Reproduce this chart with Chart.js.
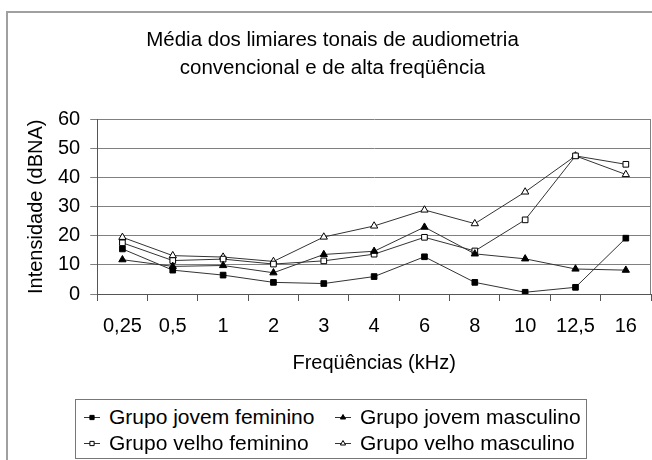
<!DOCTYPE html>
<html>
<head>
<meta charset="utf-8">
<script src="https://cdn.jsdelivr.net/npm/chart.js@4"></script>
<style>
  body { margin: 0; background: #fff; }
  #wrap { position: relative; width: 652px; height: 460px; overflow: hidden; }
  #frame { position: absolute; left: 6px; top: 11px; width: 700px; height: 520px; border: 2px solid #a0a0a0; box-sizing: border-box; }
  #chart { position: absolute; left: 0; top: 0; }
  #legend { position: absolute; left: 75px; top: 399px; width: 512px; height: 60px; border: 1px solid #777; box-sizing: border-box; background: #fff;
    font: 21px "Liberation Sans", Arial, sans-serif; color: #000; padding: 4px 0 0 8px; }
  #legend .row { display: flex; height: 26px; align-items: center; }
  #legend .item { display: flex; align-items: center; width: 254px; white-space: nowrap; }
  #legend canvas { margin-right: 9px; }
</style>
</head>
<body>
<div id="wrap">
  <div id="frame"></div>
  <canvas id="chart" width="652" height="460"></canvas>
  <div id="legend"></div>
</div>
<script>
// Média dos limiares tonais (dBNA) por frequência
const frequencias = ["0,25", "0,5", "1", "2", "3", "4", "6", "8", "10", "12,5", "16"];
const jovemFeminino = [15.5, 8.2, 6.5, 4.0, 3.6, 6.0, 12.8, 4.0, 0.6, 2.3, 19.2];
const jovemMasculino = [11.8, 9.5, 9.8, 7.3, 13.6, 14.7, 23.0, 13.8, 12.1, 8.6, 8.2];
const velhoFeminino = [17.6, 11.5, 12.0, 10.3, 11.4, 13.7, 19.5, 14.8, 25.5, 47.5, 44.6];
const velhoMasculino = [19.5, 13.2, 12.7, 11.2, 19.6, 23.4, 28.9, 24.2, 35.1, 47.5, 41.1];

const FONT = '"Liberation Sans", Arial, sans-serif';

function serie(label, data, style, filled) {
  return {
    label: label,
    data: data,
    borderColor: "#333",
    borderWidth: 1,
    pointStyle: style,
    pointRadius: style === "rect" ? 4 : 4.2,
    pointBorderColor: "#000",
    pointBorderWidth: 1,
    pointBackgroundColor: filled ? "#000" : "#fff",
    tension: 0,
    fill: false
  };
}

// draws the right edge of the plot area
const plotBorder = {
  id: "plotBorder",
  beforeDatasetsDraw(chart) {
    const { ctx, chartArea } = chart;
    ctx.save();
    ctx.strokeStyle = "#808080";
    ctx.lineWidth = 1;
    ctx.beginPath();
    ctx.moveTo(chartArea.right - 0.5, chartArea.top);
    ctx.lineTo(chartArea.right - 0.5, chartArea.bottom);
    ctx.stroke();
    ctx.restore();
  }
};

// legend built as html, two columns like the original
const htmlLegend = {
  id: "htmlLegend",
  afterUpdate(chart) {
    const box = document.getElementById("legend");
    box.innerHTML = "";
    const ds = chart.data.datasets;
    for (let r = 0; r < 2; r++) {
      const row = document.createElement("div");
      row.className = "row";
      for (let c = 0; c < 2; c++) {
        const d = ds[r * 2 + c];
        const item = document.createElement("div");
        item.className = "item";
        const icon = document.createElement("canvas");
        icon.width = 16; icon.height = 12;
        const ictx = icon.getContext("2d");
        ictx.strokeStyle = d.borderColor;
        ictx.lineWidth = 1;
        ictx.beginPath();
        ictx.moveTo(0, 6.5); ictx.lineTo(16, 6.5);
        ictx.stroke();
        ictx.fillStyle = d.pointBackgroundColor;
        ictx.strokeStyle = d.pointBorderColor;
        Chart.helpers.drawPoint(ictx, { pointStyle: d.pointStyle, radius: 3, rotation: 0, borderWidth: 1 }, 8, 6.5);
        item.appendChild(icon);
        item.appendChild(document.createTextNode(d.label));
        row.appendChild(item);
      }
      box.appendChild(row);
    }
  }
};

new Chart(document.getElementById("chart"), {
  type: "line",
  data: {
    labels: frequencias,
    datasets: [
      serie("Grupo jovem feminino", jovemFeminino, "rect", true),
      serie("Grupo jovem masculino", jovemMasculino, "triangle", true),
      serie("Grupo velho feminino", velhoFeminino, "rect", false),
      serie("Grupo velho masculino", velhoMasculino, "triangle", false)
    ]
  },
  options: {
    responsive: false,
    animation: false,
    layout: { autoPadding: false, padding: { left: 14, right: 1, top: 0, bottom: 81 } },
    plugins: {
      legend: { display: false },
      tooltip: { enabled: false },
      title: {
        display: true,
        text: ["Média dos limiares tonais de audiometria", "convencional e de alta freqüência"],
        color: "#000",
        font: { family: FONT, size: 20.5, weight: "normal", lineHeight: 1.33 },
        padding: { top: 27, bottom: 38 }
      }
    },
    scales: {
      x: {
        offset: true,
        grid: { offset: true, drawOnChartArea: false, drawTicks: true, tickLength: 7, color: "#555" },
        border: { color: "#555" },
        ticks: { color: "#000", padding: 13, font: { family: FONT, size: 20 }, maxRotation: 0 },
        title: { display: true, text: "Freqüências (kHz)", color: "#000", font: { family: FONT, size: 20 }, padding: { top: 0, bottom: 4 } },
        afterFit(scale) {
          scale.paddingLeft = 0;
          scale.paddingRight = 0;
        }
      },
      y: {
        min: 0,
        max: 60,
        grid: { color: "#808080", tickLength: 7 },
        border: { color: "#555" },
        ticks: { stepSize: 10, color: "#000", padding: 10, font: { family: FONT, size: 20 } },
        title: { display: true, text: "Intensidade (dBNA)", color: "#000", font: { family: FONT, size: 20 }, padding: { top: 10, bottom: 0 } }
      }
    }
  },
  plugins: [plotBorder, htmlLegend]
});
</script>
</body>
</html>
